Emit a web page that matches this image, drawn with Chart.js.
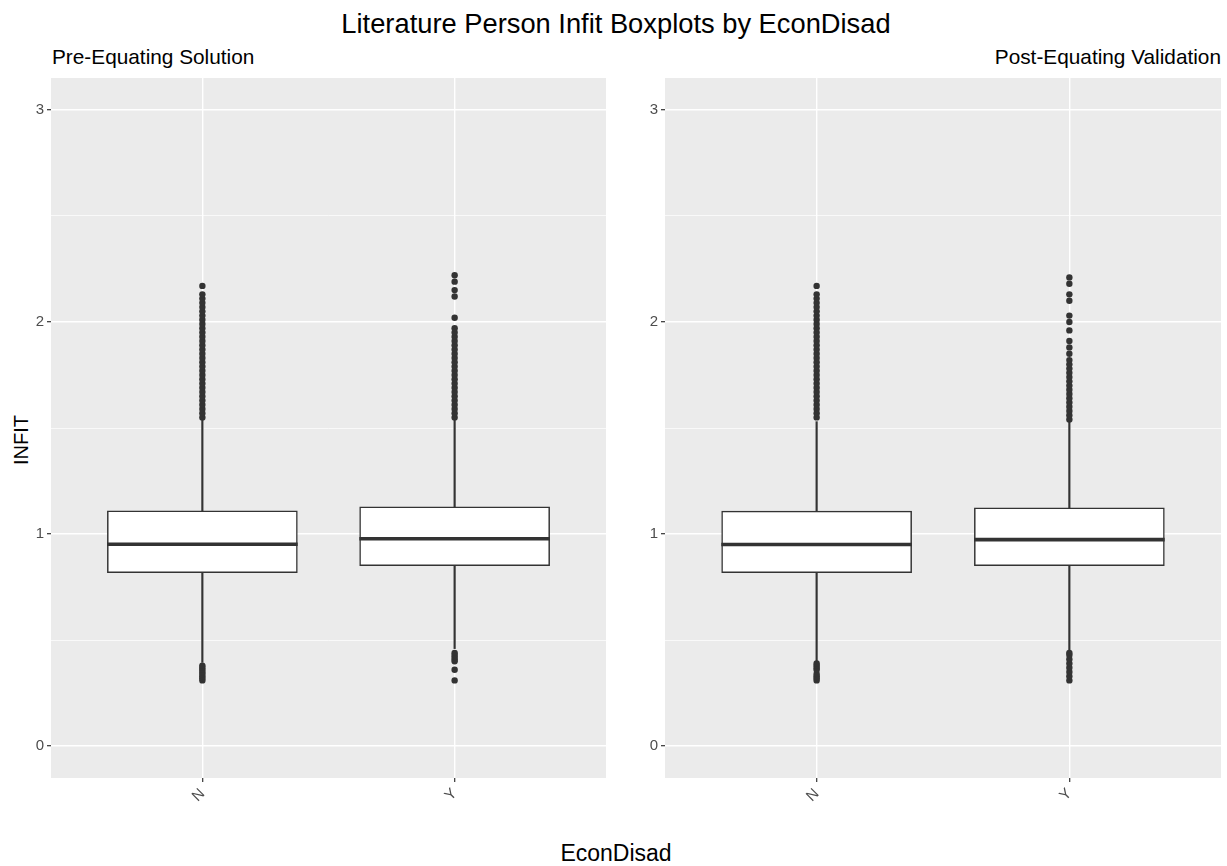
<!DOCTYPE html>
<html>
<head>
<meta charset="utf-8">
<script src="https://cdn.jsdelivr.net/npm/chart.js@4.4.1/dist/chart.umd.min.js"></script>
<style>
  html, body { margin: 0; padding: 0; background: #fff; }
  body { width: 1227px; height: 866px; position: relative; overflow: hidden;
         font-family: "Liberation Sans", Arial, sans-serif; color: #000; }
  .txt { position: absolute; white-space: nowrap; line-height: 1; }
  .panel { position: absolute; }
</style>
</head>
<body>
<div class="txt" id="title" style="left:0;width:1232px;text-align:center;top:10px;font-size:27.3px;">Literature Person Infit Boxplots by EconDisad</div>
<div class="txt" style="left:52px;top:47px;font-size:20.8px;">Pre-Equating Solution</div>
<div class="txt" style="right:6px;top:47px;font-size:20.8px;">Post-Equating Validation</div>
<div class="txt" style="left:11px;top:440px;font-size:20px;transform:translate(-50%,-50%) rotate(-90deg);transform-origin:center;margin-left:10px;">INFIT</div>
<div class="txt" style="left:0;width:1232px;text-align:center;top:842px;font-size:23px;">EconDisad</div>

<div class="panel" style="left:0;top:66px;width:612px;height:760px;"><canvas id="pre"></canvas></div>
<div class="panel" style="left:612px;top:66px;width:615px;height:760px;"><canvas id="post"></canvas></div>

<script>
// categories
const categories = ["N", "Y"];
const yTicks = [0, 1, 2, 3];

// Pre-Equating Solution
const preQ1 = [0.818, 0.851];
const preMedian = [0.952, 0.978];
const preQ3 = [1.110, 1.128];
const preWhiskLow = [0.395, 0.46];
const preWhiskHigh = [1.54, 1.54];
const preOutN = [0.31, 0.32, 0.33, 0.34, 0.35, 0.36, 0.37, 0.38,
  1.55, 1.57, 1.59, 1.61, 1.63, 1.65, 1.67, 1.69, 1.71, 1.73, 1.75, 1.77, 1.79,
  1.81, 1.83, 1.85, 1.87, 1.89, 1.91, 1.93, 1.95, 1.97, 1.99, 2.01, 2.03, 2.05,
  2.07, 2.09, 2.11, 2.13, 2.17];
const preOutY = [0.31, 0.36, 0.40, 0.41, 0.42, 0.43, 0.44,
  1.55, 1.57, 1.59, 1.61, 1.63, 1.65, 1.67, 1.69, 1.71, 1.73, 1.75, 1.77, 1.79,
  1.81, 1.83, 1.85, 1.87, 1.89, 1.91, 1.93, 1.95, 1.97, 2.02, 2.12, 2.15, 2.19, 2.22];

// Post-Equating Validation
const postQ1 = [0.818, 0.851];
const postMedian = [0.951, 0.974];
const postQ3 = [1.108, 1.124];
const postWhiskLow = [0.40, 0.448];
const postWhiskHigh = [1.53, 1.53];
const postOutN = [0.31, 0.32, 0.33, 0.34, 0.36, 0.37, 0.38, 0.39,
  1.55, 1.57, 1.59, 1.61, 1.63, 1.65, 1.67, 1.69, 1.71, 1.73, 1.75, 1.77, 1.79,
  1.81, 1.83, 1.85, 1.87, 1.89, 1.91, 1.93, 1.95, 1.97, 1.99, 2.01, 2.03, 2.05,
  2.07, 2.09, 2.11, 2.13, 2.17];
const postOutY = [0.31, 0.33, 0.35, 0.37, 0.39, 0.41, 0.43, 0.44,
  1.54, 1.56, 1.58, 1.60, 1.62, 1.64, 1.66, 1.68, 1.70, 1.72, 1.74, 1.76, 1.78, 1.80,
  1.82, 1.85, 1.88, 1.91, 1.96, 2.00, 2.03, 2.10, 2.13, 2.18, 2.21];

const INK = "#333333";
const TICK_TXT = "#4D4D4D";

const panelBg = {
  id: "panelBg",
  beforeDraw(chart) {
    const { ctx, chartArea: a } = chart;
    ctx.save();
    ctx.fillStyle = "#EBEBEB";
    ctx.fillRect(a.left, a.top, a.right - a.left, a.bottom - a.top);
    ctx.restore();
  },
};

function makePanel(id, q1, med, q3, wLow, wHigh, outs, axisWidth) {
  const ctx = document.getElementById(id);
  const idx = categories.map((c, i) => i);

  const boxData = idx.map((i) => ({ x: i, y: [q1[i], q3[i]] }));
  const medData = idx.map((i) => ({ x: i, y: [med[i] - 0.007, med[i] + 0.007] }));
  const lowData = idx.map((i) => ({ x: i, y: [wLow[i], q1[i]] }));
  const highData = idx.map((i) => ({ x: i, y: [q3[i], wHigh[i]] }));
  const outData = [];
  outs.forEach((list, i) => list.forEach((v) => outData.push({ x: i, y: v })));

  const whisk = {
    backgroundColor: INK,
    borderWidth: 0,
    barThickness: 1.5,
    grouped: false,
    order: 4,
  };

  return new Chart(ctx, {
    type: "bar",
    data: {
      datasets: [
        { ...whisk, label: "low", data: lowData },
        { ...whisk, label: "high", data: highData },
        {
          label: "box",
          data: boxData,
          backgroundColor: "#FFFFFF",
          borderColor: INK,
          borderWidth: 1.5,
          borderSkipped: false,
          barThickness: 190,
          grouped: false,
          order: 3,
        },
        {
          label: "median",
          data: medData,
          backgroundColor: INK,
          borderWidth: 0,
          barThickness: 190,
          grouped: false,
          order: 2,
        },
        {
          type: "line",
          label: "outliers",
          data: outData,
          showLine: false,
          pointRadius: 3.2,
          pointBackgroundColor: INK,
          pointBorderWidth: 0,
          order: 1,
        },
      ],
    },
    options: {
      responsive: true,
      maintainAspectRatio: false,
      animation: false,
      layout: { padding: { top: 10, right: 6, left: 0, bottom: 0 } },
      plugins: { legend: { display: false }, tooltip: { enabled: false } },
      scales: {
        x: {
          type: "linear",
          min: -0.6,
          max: 1.6,
          offset: false,
          afterFit: (s) => { s.height = 48; },
          ticks: {
            stepSize: 1,
            includeBounds: false,
            minRotation: 45,
            maxRotation: 45,
            padding: 3,
            color: TICK_TXT,
            font: { family: "Liberation Sans", size: 15 },
            callback: (v) => categories[v] ?? "",
          },
          grid: {
            offset: false,
            color: "#FFFFFF",
            lineWidth: 1.4,
            tickColor: INK,
            tickLength: 4,
            tickWidth: 1.2,
          },
          border: { display: false },
        },
        y: {
          min: -0.15,
          max: 3.15,
          afterFit: (s) => { s.width = axisWidth; },
          ticks: {
            stepSize: 0.5,
            includeBounds: false,
            padding: 3,
            color: TICK_TXT,
            font: { family: "Liberation Sans", size: 15 },
            callback: (v) => (yTicks.includes(v) ? String(v) : ""),
          },
          grid: {
            color: "#FFFFFF",
            lineWidth: (c) => (Number.isInteger(c.tick.value) ? 1.4 : 0.7),
            tickColor: (c) => (Number.isInteger(c.tick.value) ? INK : "rgba(0,0,0,0)"),
            tickLength: 4,
            tickWidth: 1.2,
          },
          border: { display: false },
        },
      },
    },
    plugins: [panelBg],
  });
}

makePanel("pre", preQ1, preMedian, preQ3, preWhiskLow, preWhiskHigh, [preOutN, preOutY], 51);
makePanel("post", postQ1, postMedian, postQ3, postWhiskLow, postWhiskHigh, [postOutN, postOutY], 53);
</script>
</body>
</html>
